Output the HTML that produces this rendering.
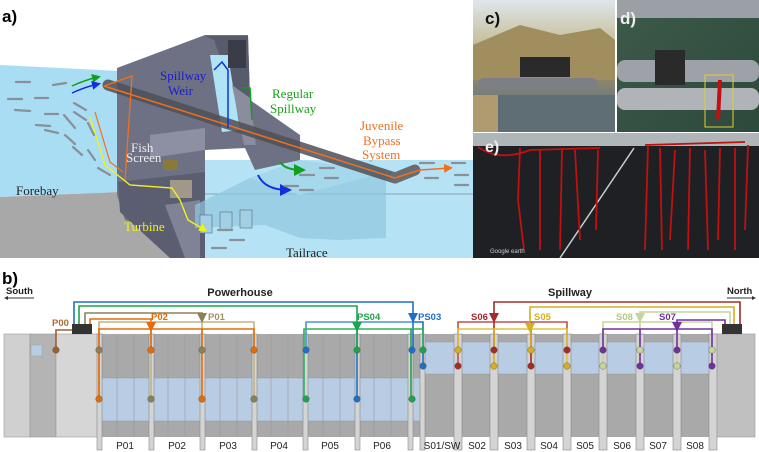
<!DOCTYPE html>
<html><head><meta charset="utf-8"><style>
html,body{margin:0;padding:0;background:#fff}
svg{display:block}
text{font-family:"Liberation Sans",sans-serif}
.s{font-family:"Liberation Serif",serif;font-size:13px}
.lb{font-size:9.5px;font-weight:bold}
.pl{font-size:10px;fill:#222}
</style></head><body>
<svg width="759" height="452" viewBox="0 0 759 452" xmlns="http://www.w3.org/2000/svg">
<defs>
<marker id="ao" markerWidth="6" markerHeight="6" refX="4" refY="3" orient="auto"><path d="M0,0L6,3L0,6z" fill="#f07020"/></marker>
<marker id="ab" markerWidth="6" markerHeight="6" refX="4" refY="3" orient="auto"><path d="M0,0L6,3L0,6z" fill="#1030e0"/></marker>
<marker id="ag" markerWidth="6" markerHeight="6" refX="4" refY="3" orient="auto"><path d="M0,0L6,3L0,6z" fill="#10a020"/></marker>
<marker id="ay" markerWidth="6" markerHeight="6" refX="4" refY="3" orient="auto"><path d="M0,0L6,3L0,6z" fill="#f0f020"/></marker>
<linearGradient id="cg" x1="0" y1="0" x2="0" y2="1"><stop offset="0" stop-color="#dfe6ec"/><stop offset="0.3" stop-color="#c8c2a0"/><stop offset="0.55" stop-color="#9a8a60"/><stop offset="0.75" stop-color="#6f7c80"/><stop offset="1" stop-color="#5a6a70"/></linearGradient>
<linearGradient id="dg" x1="0" y1="0" x2="1" y2="1"><stop offset="0" stop-color="#3d5a4a"/><stop offset="1" stop-color="#2c4a3c"/></linearGradient>
</defs>

<text x="2" y="22" font-size="17" font-weight="bold">a)</text>
<polygon points="0,65 120,71 120,192 0,197" fill="#a9ddf3"/>
<polygon points="0,197 120,192 200,215 200,258 0,258" fill="#a8a8a8"/>
<rect x="195" y="160" width="278" height="98" fill="#b5e3f5"/>
<line x1="195" y1="194" x2="473" y2="194" stroke="#7a8a95" stroke-width="0.8"/>
<polygon points="117,68 205,35 248,35 250,100 300,135 300,160 255,170 245,148 205,150 205,205 160,230 125,220 117,195" fill="#6e7184"/>
<polygon points="118,182 205,172 205,258 170,258 120,212" fill="#5b5e70"/>
<polygon points="205,36 248,36 250,100 232,90 214,40" fill="#585b6c"/>
<polygon points="210,55 228,55 240,130 222,132" fill="#aee4f6"/>
<polygon points="232,85 250,98 256,145 244,145" fill="#8a8d9e"/>
<rect x="228" y="40" width="18" height="28" fill="#3a3c48"/>
<polygon points="150,135 205,128 205,150 150,158" fill="#8d90a3"/>
<polygon points="165,205 200,200 200,258 185,258" fill="#808396"/>
<rect x="170" y="180" width="22" height="18" fill="#a0998a"/>
<rect x="163" y="160" width="15" height="10" fill="#8a7a3a"/>
<polygon points="195,205 250,178 300,160 386,172 386,238 340,240 300,238 265,225 195,228" fill="#8fc6e0" opacity="0.7"/>
<polygon points="250,178 300,160 386,172 300,195" fill="#a9d9ee" opacity="0.8"/>
<rect x="200" y="215" width="12" height="18" fill="#a2cfe4" stroke="#5a6a80" stroke-width="0.6"/>
<rect x="220" y="212" width="12" height="18" fill="#a2cfe4" stroke="#5a6a80" stroke-width="0.6"/>
<rect x="240" y="210" width="12" height="18" fill="#a2cfe4" stroke="#5a6a80" stroke-width="0.6"/>
<line x1="108" y1="85" x2="395" y2="178" stroke="#4f5158" stroke-width="11" opacity="0.85" stroke-linecap="round"/>
<line x1="395" y1="178" x2="415" y2="170" stroke="#6a6c72" stroke-width="11" stroke-linecap="round"/>
<polyline points="104,86 132,76 125,180" fill="none" stroke="#f07020" stroke-width="1.3"/>
<polyline points="104,86 395,178 420,170 450,168" fill="none" stroke="#f07020" stroke-width="1.5" marker-end="url(#ao)"/>
<polyline points="95,112 110,162 123,172" fill="none" stroke="#f07020" stroke-width="1.2"/>
<polyline points="90,117 105,165 130,185 172,188 180,200 188,220 205,230" fill="none" stroke="#f0f020" stroke-width="1.4" marker-end="url(#ay)"/>
<path d="M72,86 Q85,80 98,77" fill="none" stroke="#10a020" stroke-width="1.5" marker-end="url(#ag)"/>
<path d="M72,93 Q85,87 98,84" fill="none" stroke="#1030e0" stroke-width="1.5" marker-end="url(#ab)"/>
<path d="M258,175 Q265,190 288,190" fill="none" stroke="#1030e0" stroke-width="2" marker-end="url(#ab)"/>
<path d="M280,162 Q285,170 302,170" fill="none" stroke="#10a020" stroke-width="2" marker-end="url(#ag)"/>
<polyline points="214,70 222,62 228,70 228,128" fill="none" stroke="#1030e0" stroke-width="1.5"/>
<polyline points="242,88 250,88 252,120" fill="none" stroke="#10a020" stroke-width="1.5"/>
<g stroke="#8a8f98" stroke-width="2.2" stroke-linecap="round">
<line x1="16" y1="82" x2="30" y2="82"/><line x1="53" y1="85" x2="66" y2="83"/><line x1="8" y1="99" x2="22" y2="99"/><line x1="35" y1="98" x2="48" y2="98"/>
<line x1="15" y1="110" x2="30" y2="111"/><line x1="45" y1="114" x2="58" y2="114"/><line x1="36" y1="125" x2="50" y2="126"/><line x1="74" y1="103" x2="86" y2="110"/>
<line x1="74" y1="112" x2="86" y2="120"/><line x1="64" y1="115" x2="75" y2="128"/><line x1="88" y1="123" x2="94" y2="135"/><line x1="45" y1="130" x2="58" y2="133"/>
<line x1="65" y1="135" x2="75" y2="144"/><line x1="88" y1="150" x2="95" y2="160"/><line x1="73" y1="147" x2="82" y2="155"/><line x1="98" y1="168" x2="110" y2="175"/>
<line x1="320" y1="168" x2="334" y2="168"/><line x1="300" y1="175" x2="314" y2="175"/><line x1="325" y1="178" x2="338" y2="178"/><line x1="285" y1="186" x2="298" y2="186"/><line x1="300" y1="190" x2="313" y2="190"/>
<line x1="420" y1="163" x2="434" y2="163"/><line x1="452" y1="163" x2="465" y2="163"/><line x1="455" y1="175" x2="468" y2="175"/><line x1="425" y1="178" x2="438" y2="178"/><line x1="455" y1="185" x2="468" y2="185"/>
<line x1="218" y1="230" x2="232" y2="230"/><line x1="230" y1="240" x2="244" y2="240"/><line x1="212" y1="248" x2="226" y2="248"/>
</g>
<text class="s" x="160" y="80" fill="#1a1ad0">Spillway</text>
<text class="s" x="168" y="95" fill="#1a1ad0">Weir</text>
<text class="s" x="272" y="98" fill="#18a018">Regular</text>
<text class="s" x="270" y="113" fill="#18a018">Spillway</text>
<text class="s" x="360" y="130" fill="#f07020">Juvenile</text>
<text class="s" x="363" y="145" fill="#f07020">Bypass</text>
<text class="s" x="362" y="159" fill="#f07020">System</text>
<text class="s" x="131" y="152" fill="#eee" font-size="8">Fish</text>
<text class="s" x="126" y="162" fill="#eee" font-size="8">Screen</text>
<text class="s" x="16" y="195" fill="#222">Forebay</text>
<text class="s" x="124" y="231" fill="#f0f020">Turbine</text>
<text class="s" x="286" y="257" fill="#222">Tailrace</text>

<rect x="473" y="0" width="142" height="132" fill="url(#cg)"/>
<polygon points="473,45 520,25 560,35 600,28 615,40 615,80 473,80" fill="#a08e5e"/>
<rect x="473" y="95" width="142" height="37" fill="#5e6e74"/>
<rect x="478" y="78" width="120" height="12" rx="6" fill="#7c8084"/>
<rect x="520" y="57" width="50" height="20" fill="#2a2a2a"/>
<rect x="473" y="95" width="25" height="37" fill="#b09a70"/>
<text x="485" y="24" font-size="17" font-weight="bold" fill="#111">c)</text>
<rect x="617" y="0" width="142" height="132" fill="url(#dg)"/>
<rect x="617" y="60" width="142" height="22" rx="8" fill="#9ea2a8"/>
<rect x="617" y="88" width="142" height="22" rx="8" fill="#b0b4b8"/>
<rect x="617" y="0" width="142" height="18" fill="#9aa0a6"/>
<rect x="655" y="50" width="30" height="35" fill="#2a2a2a"/>
<rect x="705" y="75" width="28" height="52" fill="none" stroke="#e0d030" stroke-width="1"/>
<line x1="720" y1="80" x2="718" y2="120" stroke="#c01010" stroke-width="4"/>
<text x="620" y="24" font-size="17" font-weight="bold" fill="#eee">d)</text>
<rect x="473" y="133" width="286" height="125" fill="#1e2024"/>
<rect x="473" y="133" width="286" height="13" fill="#aeb6b8"/>
<line x1="634" y1="148" x2="560" y2="258" stroke="#c8d0d0" stroke-width="1.5"/>
<g fill="none" stroke="#c01010" stroke-width="1.8">
<path d="M478,147 Q500,162 530,150 L600,148"/>
<path d="M520,148 L518,200 L524,250 M540,150 L540,250 M562,150 L560,250 M575,150 L580,240 M598,150 L596,230"/>
<path d="M645,145 L745,142 M648,145 L645,250 M660,148 L662,250 M675,150 L670,240 M690,148 L688,250 M705,150 L708,250 M720,148 L718,240 M735,148 L735,250 M748,145 L745,230"/>
</g>
<text x="485" y="152" font-size="16" font-weight="bold" fill="#eee">e)</text>
<text x="490" y="253" font-size="6" fill="#ccc">Google earth</text>

<text x="2" y="284" font-size="17" font-weight="bold">b)</text>
<text x="6" y="294" class="lb" fill="#222">South</text>
<line x1="6" y1="298" x2="34" y2="298" stroke="#333" stroke-width="1"/><path d="M4,298l4,-2v4z" fill="#333"/>
<text x="240" y="296" font-size="11" font-weight="bold" text-anchor="middle" fill="#222">Powerhouse</text>
<text x="570" y="296" font-size="11" font-weight="bold" text-anchor="middle" fill="#222">Spillway</text>
<text x="727" y="294" class="lb" fill="#222">North</text>
<line x1="727" y1="298" x2="753" y2="298" stroke="#333" stroke-width="1"/><path d="M756,298l-4,-2v4z" fill="#333"/>

<rect x="4" y="334" width="26" height="103" fill="#d0d0d0" stroke="#999" stroke-width="0.6"/>
<rect x="30" y="334" width="26" height="103" fill="#b4b4b4" stroke="#999" stroke-width="0.6"/>
<rect x="31" y="345" width="11" height="11" fill="#b8cce4" stroke="#8aa" stroke-width="0.5"/>
<rect x="56" y="334" width="44" height="103" fill="#d6d6d6" stroke="#999" stroke-width="0.6"/>
<rect x="100" y="334" width="320" height="103" fill="#a9a9a9"/>
<rect x="100" y="378" width="320" height="43" fill="#b8cce4"/>
<g stroke="#999" stroke-width="0.6">
<line x1="117" y1="334" x2="117" y2="437"/><line x1="134" y1="334" x2="134" y2="437"/><line x1="168" y1="334" x2="168" y2="437"/><line x1="185" y1="334" x2="185" y2="437"/>
<line x1="220" y1="334" x2="220" y2="437"/><line x1="237" y1="334" x2="237" y2="437"/><line x1="271" y1="334" x2="271" y2="437"/><line x1="288" y1="334" x2="288" y2="437"/>
<line x1="323" y1="334" x2="323" y2="437"/><line x1="340" y1="334" x2="340" y2="437"/><line x1="374" y1="334" x2="374" y2="437"/><line x1="391" y1="334" x2="391" y2="437"/>
<line x1="100" y1="378" x2="420" y2="378"/><line x1="100" y1="421" x2="420" y2="421"/>
</g>
<rect x="420" y="334" width="293" height="103" fill="#a9a9a9"/>
<rect x="420" y="342" width="293" height="32" fill="#b8cce4"/>
<line x1="420" y1="342" x2="713" y2="342" stroke="#999" stroke-width="0.6"/>
<line x1="420" y1="374" x2="713" y2="374" stroke="#999" stroke-width="0.6"/>
<rect x="713" y="334" width="42" height="103" fill="#c0c0c0" stroke="#999" stroke-width="0.6"/>
<rect x="72" y="324" width="20" height="10" fill="#333"/>
<rect x="722" y="324" width="20" height="10" fill="#333"/>
<g fill="#d4d4d4" stroke="#888" stroke-width="0.6">
<rect x="97" y="334" width="5" height="116"/><rect x="149" y="334" width="5" height="116"/><rect x="200" y="334" width="5" height="116"/>
<rect x="252" y="334" width="5" height="116"/><rect x="303" y="334" width="5" height="116"/><rect x="355" y="334" width="5" height="116"/><rect x="408" y="334" width="5" height="116"/>
<rect x="420" y="334" width="5" height="116"/><rect x="454" y="334" width="8" height="116"/><rect x="490" y="334" width="8" height="116"/>
<rect x="527" y="334" width="8" height="116"/><rect x="563" y="334" width="8" height="116"/><rect x="599" y="334" width="8" height="116"/>
<rect x="636" y="334" width="8" height="116"/><rect x="673" y="334" width="8" height="116"/><rect x="709" y="334" width="8" height="116"/>
</g>
<g class="pl" text-anchor="middle">
<text x="125" y="449" class="pl">P01</text><text x="177" y="449" class="pl">P02</text><text x="228" y="449" class="pl">P03</text><text x="279" y="449" class="pl">P04</text>
<text x="330" y="449" class="pl">P05</text><text x="382" y="449" class="pl">P06</text><text x="442" y="449" class="pl">S01/SW</text><text x="477" y="449" class="pl">S02</text>
<text x="513" y="449" class="pl">S03</text><text x="549" y="449" class="pl">S04</text><text x="585" y="449" class="pl">S05</text><text x="622" y="449" class="pl">S06</text>
<text x="658" y="449" class="pl">S07</text><text x="695" y="449" class="pl">S08</text>
</g>

<g fill="none" stroke-width="1.6">
<polyline points="72,330 56,330 56,350" stroke="#9c6030"/>
<polyline points="74,324 74,302 413,302 413,314" stroke="#1f6fc5"/>
<polyline points="79,324 79,306 357,306 357,322" stroke="#1fa34a"/>
<polyline points="85,324 85,313 202,313 202,314" stroke="#8c8057"/>
<polyline points="90,324 90,319 151,319 151,322" stroke="#e36c0a"/>
<polyline points="99,399 99,322 254,322 254,399" stroke="#c0b48a"/>
<polyline points="151,399 151,322" stroke="#c0b48a"/><polyline points="202,350 202,322" stroke="#c0b48a"/>
<polyline points="99,399 99,329 254,329 254,350" stroke="#e36c0a"/>
<polyline points="151,330 151,350" stroke="#e36c0a"/><polyline points="202,329 202,399" stroke="#e36c0a"/>
<polyline points="306,350 306,322 413,322" stroke="#5090d8"/><polyline points="357,399 357,322" stroke="#1f6fc5"/><polyline points="413,322 413,350" stroke="#1f6fc5"/><polyline points="413,322 423,322 423,366" stroke="#1f6fc5"/>
<polyline points="304,399 304,329 423,329 423,350" stroke="#30b060"/><polyline points="357,330 357,350" stroke="#1fa34a"/><polyline points="411,329 411,399" stroke="#1fa34a"/>
<polyline points="740,324 740,302 494,302 494,313" stroke="#a52a2a"/>
<polyline points="458,366 458,322 567,322 567,350" stroke="#c05050"/><polyline points="494,322 494,350" stroke="#a52a2a"/><polyline points="531,322 531,366" stroke="#a52a2a"/>
<polyline points="734,324 734,307 530,307 530,323" stroke="#d4b020"/>
<polyline points="458,350 458,329 567,329 567,366" stroke="#e0c040"/><polyline points="494,329 494,366" stroke="#d4b020"/><polyline points="531,329 531,350" stroke="#d4b020"/>
<polyline points="730,324 730,312 640,312 640,313" stroke="#c3d69b"/>
<polyline points="603,366 603,322 712,322 712,350" stroke="#c3d69b"/><polyline points="640,322 640,350" stroke="#c3d69b"/><polyline points="677,322 677,366" stroke="#c3d69b"/>
<polyline points="725,324 725,320 677,320 677,322" stroke="#7030a0"/>
<polyline points="603,350 603,329 712,329 712,366" stroke="#7030a0"/><polyline points="640,329 640,366" stroke="#7030a0"/><polyline points="677,330 677,350" stroke="#7030a0"/>
</g>
<path d="M146,322h10l-5,10z" fill="#e36c0a"/>
<path d="M197,313h10l-5,10z" fill="#8c8057"/>
<path d="M352,322h10l-5,10z" fill="#1fa34a"/>
<path d="M408,313h10l-5,10z" fill="#1f6fc5"/>
<path d="M489,313h10l-5,10z" fill="#a52a2a"/>
<path d="M525,323h10l-5,10z" fill="#d4b020"/>
<path d="M635,313h10l-5,10z" fill="#c3d69b"/>
<path d="M672,322h10l-5,10z" fill="#7030a0"/>
<g class="lb">
<text x="52" y="326" fill="#b06a30">P00</text>
<text x="151" y="320" fill="#e36c0a">P02</text>
<text x="208" y="320" fill="#a09060">P01</text>
<text x="357" y="320" fill="#1fa34a">PS04</text>
<text x="418" y="320" fill="#1f6fc5">PS03</text>
<text x="471" y="320" fill="#a52a2a">S06</text>
<text x="534" y="320" fill="#d4b020">S05</text>
<text x="616" y="320" fill="#b0c888">S08</text>
<text x="659" y="320" fill="#7030a0">S07</text>
</g>
<g stroke="#555" stroke-width="0.4">
<circle cx="56" cy="350" r="3.3" fill="#9c6030"/>
<circle cx="99" cy="350" r="3.3" fill="#8c8057"/><circle cx="151" cy="350" r="3.3" fill="#e36c0a"/><circle cx="202" cy="350" r="3.3" fill="#8c8057"/><circle cx="254" cy="350" r="3.3" fill="#e36c0a"/>
<circle cx="99" cy="399" r="3.3" fill="#e36c0a"/><circle cx="151" cy="399" r="3.3" fill="#8c8057"/><circle cx="202" cy="399" r="3.3" fill="#e36c0a"/><circle cx="254" cy="399" r="3.3" fill="#8c8057"/>
<circle cx="306" cy="350" r="3.3" fill="#1f6fc5"/><circle cx="357" cy="350" r="3.3" fill="#1fa34a"/><circle cx="412" cy="350" r="3.3" fill="#1f6fc5"/><circle cx="423" cy="350" r="3.3" fill="#1fa34a"/>
<circle cx="306" cy="399" r="3.3" fill="#1fa34a"/><circle cx="357" cy="399" r="3.3" fill="#1f6fc5"/><circle cx="412" cy="399" r="3.3" fill="#1fa34a"/><circle cx="423" cy="366" r="3.3" fill="#1f6fc5"/>
<circle cx="458" cy="350" r="3.3" fill="#d4b020"/><circle cx="494" cy="350" r="3.3" fill="#a52a2a"/><circle cx="531" cy="350" r="3.3" fill="#d4b020"/><circle cx="567" cy="350" r="3.3" fill="#a52a2a"/>
<circle cx="458" cy="366" r="3.3" fill="#a52a2a"/><circle cx="494" cy="366" r="3.3" fill="#d4b020"/><circle cx="531" cy="366" r="3.3" fill="#a52a2a"/><circle cx="567" cy="366" r="3.3" fill="#d4b020"/>
<circle cx="603" cy="350" r="3.3" fill="#7030a0"/><circle cx="640" cy="350" r="3.3" fill="#c3d69b"/><circle cx="677" cy="350" r="3.3" fill="#7030a0"/><circle cx="712" cy="350" r="3.3" fill="#c3d69b"/>
<circle cx="603" cy="366" r="3.3" fill="#c3d69b"/><circle cx="640" cy="366" r="3.3" fill="#7030a0"/><circle cx="677" cy="366" r="3.3" fill="#c3d69b"/><circle cx="712" cy="366" r="3.3" fill="#7030a0"/>
</g>
</svg>
</body></html>
